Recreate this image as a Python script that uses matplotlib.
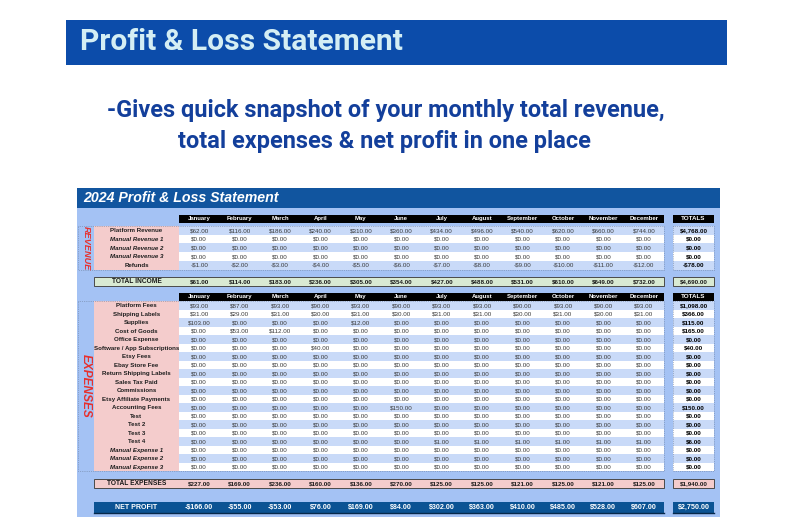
import matplotlib
matplotlib.use("Agg")
import matplotlib.pyplot as plt
from matplotlib.patches import Rectangle
from matplotlib import font_manager as fm

# ---------------- data ----------------
months = ["January", "February", "March", "April", "May", "June", "July",
          "August", "September", "October", "November", "December"]

revenue_labels = ["Platform Revenue", "Manual Revenue 1", "Manual Revenue 2",
                  "Manual Revenue 3", "Refunds"]
platform_revenue = [62, 116, 186, 240, 310, 360, 434, 496, 540, 620, 660, 744]
manual_revenue_1 = [0, 0, 0, 0, 0, 0, 0, 0, 0, 0, 0, 0]
manual_revenue_2 = [0, 0, 0, 0, 0, 0, 0, 0, 0, 0, 0, 0]
manual_revenue_3 = [0, 0, 0, 0, 0, 0, 0, 0, 0, 0, 0, 0]
refunds = [-1, -2, -3, -4, -5, -6, -7, -8, -9, -10, -11, -12]

expense_labels = ["Platform Fees", "Shipping Labels", "Supplies", "Cost of Goods",
                  "Office Expense", "Software / App Subscriptions", "Etsy Fees",
                  "Ebay Store Fee", "Return Shipping Labels", "Sales Tax Paid",
                  "Commissions", "Etsy Affiliate Payments", "Accounting Fees",
                  "Test", "Test 2", "Test 3", "Test 4", "Manual Expense 1",
                  "Manual Expense 2", "Manual Expense 3"]
platform_fees = [93, 87, 93, 90, 93, 90, 93, 93, 90, 93, 90, 93]
shipping_labels = [31, 29, 31, 30, 31, 30, 31, 31, 30, 31, 30, 31]
supplies = [103, 0, 0, 0, 12, 0, 0, 0, 0, 0, 0, 0]
cost_of_goods = [0, 53, 112, 0, 0, 0, 0, 0, 0, 0, 0, 0]
office_expense = [0, 0, 0, 0, 0, 0, 0, 0, 0, 0, 0, 0]
software_subs = [0, 0, 0, 40, 0, 0, 0, 0, 0, 0, 0, 0]
etsy_fees = [0, 0, 0, 0, 0, 0, 0, 0, 0, 0, 0, 0]
ebay_store_fee = [0, 0, 0, 0, 0, 0, 0, 0, 0, 0, 0, 0]
return_shipping = [0, 0, 0, 0, 0, 0, 0, 0, 0, 0, 0, 0]
sales_tax_paid = [0, 0, 0, 0, 0, 0, 0, 0, 0, 0, 0, 0]
commissions = [0, 0, 0, 0, 0, 0, 0, 0, 0, 0, 0, 0]
etsy_affiliate = [0, 0, 0, 0, 0, 0, 0, 0, 0, 0, 0, 0]
accounting_fees = [0, 0, 0, 0, 0, 150, 0, 0, 0, 0, 0, 0]
test_1 = [0, 0, 0, 0, 0, 0, 0, 0, 0, 0, 0, 0]
test_2 = [0, 0, 0, 0, 0, 0, 0, 0, 0, 0, 0, 0]
test_3 = [0, 0, 0, 0, 0, 0, 0, 0, 0, 0, 0, 0]
test_4 = [0, 0, 0, 0, 0, 0, 1, 1, 1, 1, 1, 1]
manual_expense_1 = [0, 0, 0, 0, 0, 0, 0, 0, 0, 0, 0, 0]
manual_expense_2 = [0, 0, 0, 0, 0, 0, 0, 0, 0, 0, 0, 0]
manual_expense_3 = [0, 0, 0, 0, 0, 0, 0, 0, 0, 0, 0, 0]

revenue_series = [platform_revenue, manual_revenue_1, manual_revenue_2,
                  manual_revenue_3, refunds]
expense_series = [platform_fees, shipping_labels, supplies, cost_of_goods,
                  office_expense, software_subs, etsy_fees, ebay_store_fee,
                  return_shipping, sales_tax_paid, commissions, etsy_affiliate,
                  accounting_fees, test_1, test_2, test_3, test_4,
                  manual_expense_1, manual_expense_2, manual_expense_3]
italic_labels = {"Manual Revenue 1", "Manual Revenue 2", "Manual Revenue 3",
                 "Manual Expense 1", "Manual Expense 2", "Manual Expense 3"}

total_income = [sum(s[m] for s in revenue_series) for m in range(12)]
total_expenses = [sum(s[m] for s in expense_series) for m in range(12)]
net_profit = [total_income[m] - total_expenses[m] for m in range(12)]


def money(v):
    s = f"${abs(v):,.2f}"
    return "-" + s if v < 0 else s


# ---------------- fonts ----------------
SHEET_FONT = "Liberation Sans"
head_fp = fm.FontProperties(family=["Roboto", "DejaVu Sans"], weight="bold")

# ---------------- figure ----------------
W, H = 794, 529
fig = plt.figure(figsize=(W / 100, H / 100), dpi=100)
ax = fig.add_axes([0, 0, 1, 1])
ax.set_xlim(0, W)
ax.set_ylim(H, 0)
ax.axis("off")
fig.patch.set_facecolor("white")
renderer = fig.canvas.get_renderer()


def rect(x0, y0, x1, y1, fc, ec="none", lw=0.0, ls="-", z=1):
    ax.add_patch(Rectangle((x0, y0), x1 - x0, y1 - y0, facecolor=fc,
                           edgecolor=ec, linewidth=lw, linestyle=ls, zorder=z))


def fit_text(x, y, s, width, ha, color, fp):
    t = ax.text(x, y, s, ha=ha, va="center", color=color, fontproperties=fp,
                fontsize=10, zorder=5)
    bb = t.get_window_extent(renderer=renderer)
    t.set_fontsize(10 * width / bb.width)
    return t


# Top banner
rect(66, 20, 727, 65, "#0c4caa")
fit_text(80, 42.5, "Profit & Loss Statement", 323, "left", "#d4eef4", head_fp)

# Subtitle
fit_text(386, 110.5, "-Gives quick snapshot of your monthly total revenue,", 557,
         "center", "#133f9b", head_fp)
fit_text(384, 141.5, "total expenses & net profit in one place", 414,
         "center", "#133f9b", head_fp)

# ---------------- sheet ----------------
SX0, SX1, SY0, SY1 = 77, 720, 188, 517
rect(SX0, SY0, SX1, SY1, "#a4c2f4")
rect(SX0, SY0, SX1, 208, "#11559f", z=2)
ax.text(83, 198.5, "2024 Profit & Loss Statement", color="white", fontsize=10.2,
        fontweight="bold", fontstyle="italic", family=SHEET_FONT, va="center",
        ha="left", zorder=5)

LX0, LX1 = 94, 179
MX0, MX1 = 179, 664
CW = (MX1 - MX0) / 12
TX0, TX1 = 673, 714
LC = (LX0 + LX1) / 2
TC = (TX0 + TX1) / 2
FS = 4.5
VAL_COLOR = "#3a3a3a"
LBL_COLOR = "#1e1e1e"
BLUE_ROW = "#c9daf8"
PINK = "#f4cccc"


def col_center(m):
    return MX0 + CW * (m + 0.5)


def header(y0, y1):
    rect(MX0, y0, MX1, y1, "black", z=2)
    rect(TX0, y0, TX1, y1, "black", z=2)
    yc = (y0 + y1) / 2
    for m, name in enumerate(months):
        ax.text(col_center(m), yc, name, color="white", fontsize=FS - 0.2,
                fontweight="bold", family=SHEET_FONT, ha="center", va="center", zorder=5)
    ax.text(TC, yc, "TOTALS", color="white", fontsize=FS, fontweight="bold",
            family=SHEET_FONT, ha="center", va="center", zorder=5)


def rows(top, h, labels, series):
    for i, (lab, vals) in enumerate(zip(labels, series)):
        y0 = top + i * h
        y1 = y0 + h
        yc = (y0 + y1) / 2 + 0.3
        bg = BLUE_ROW if i % 2 == 0 else "white"
        rect(LX0, y0, LX1, y1, PINK, z=2)
        rect(MX0, y0, MX1, y1, bg, z=2)
        rect(TX0, y0, TX1, y1, bg, z=2)
        ax.text(LC, yc, lab, color=LBL_COLOR, fontsize=FS - 0.1, fontweight="bold",
                fontstyle="italic" if lab in italic_labels else "normal",
                family=SHEET_FONT, ha="center", va="center", zorder=5)
        for m, v in enumerate(vals):
            ax.text(col_center(m), yc, money(v), color=VAL_COLOR, fontsize=FS,
                    family=SHEET_FONT, ha="center", va="center", zorder=5)
        ax.text(TC, yc, money(sum(vals)), color="black", fontsize=FS,
                fontweight="bold", family=SHEET_FONT, ha="center", va="center", zorder=5)
    bottom = top + h * len(labels)
    rect(78, top, MX1, bottom, "none", ec="#6d7f9c", lw=0.5, ls=":", z=3)
    rect(TX0, top, TX1, bottom, "none", ec="#6d7f9c", lw=0.5, ls=":", z=3)
    return bottom


def total_row(y0, y1, label, vals, fc, tc, ec):
    rect(LX0, y0, MX1, y1, fc, ec=ec, lw=0.7, z=2)
    rect(TX0, y0, TX1, y1, fc, ec=ec, lw=0.7, z=2)
    yc = (y0 + y1) / 2 + 0.3
    ax.text(LC, yc, label, color=tc, fontsize=FS + 0.3, fontweight="bold",
            family=SHEET_FONT, ha="center", va="center", zorder=5)
    for m, v in enumerate(vals):
        ax.text(col_center(m), yc, money(v), color=tc, fontsize=FS,
                fontweight="bold", family=SHEET_FONT, ha="center", va="center", zorder=5)
    ax.text(TC, yc, money(sum(vals)), color=tc, fontsize=FS, fontweight="bold",
            family=SHEET_FONT, ha="center", va="center", zorder=5)


# Revenue section
header(214.5, 223)
rev_top, rev_h = 226, 8.7
rev_bottom = rows(rev_top, rev_h, revenue_labels, revenue_series)
ax.text(86, (rev_top + rev_bottom) / 2, "REVENUE", color="#e8302c", fontsize=6.6,
        fontweight="bold", fontstyle="italic", family=SHEET_FONT, rotation=-90,
        ha="center", va="center", zorder=5)
total_row(277, 285.5, "TOTAL INCOME", total_income, "#d9ead3", "#1a1a1a", "#4a4a4a")

# Expense section
header(292.5, 301)
exp_top, exp_h = 301, 8.52
exp_bottom = rows(exp_top, exp_h, expense_labels, expense_series)
ax.text(86, (exp_top + exp_bottom) / 2, "EXPENSES", color="#e8302c", fontsize=8.6,
        fontweight="bold", fontstyle="italic", family=SHEET_FONT, rotation=-90,
        ha="center", va="center", zorder=5)
total_row(479, 488, "TOTAL EXPENSES", total_expenses, PINK, "#1a1a1a", "#4a4a4a")

# Net profit
rect(LX0, 502, MX1, 513, "#0b5394", z=2)
rect(TX0, 502, TX1, 513, "#0b5394", z=2)
ax.plot([LX0, MX1], [513.3, 513.3], color="#06284a", lw=1.0, zorder=3)
ax.plot([TX0, TX1], [513.3, 513.3], color="#06284a", lw=1.0, zorder=3)
yc = 507.8
ax.text(LC, yc, "NET PROFIT", color="white", fontsize=FS + 0.6, fontweight="bold",
        family=SHEET_FONT, ha="center", va="center", zorder=5)
for m, v in enumerate(net_profit):
    ax.text(col_center(m), yc, money(v), color="white", fontsize=FS + 0.6,
            fontweight="bold", family=SHEET_FONT, ha="center", va="center", zorder=5)
ax.text(TC, yc, money(sum(net_profit)), color="white", fontsize=FS + 0.6,
        fontweight="bold", family=SHEET_FONT, ha="center", va="center", zorder=5)

fig.savefig("out.png", dpi=100, facecolor="white")
